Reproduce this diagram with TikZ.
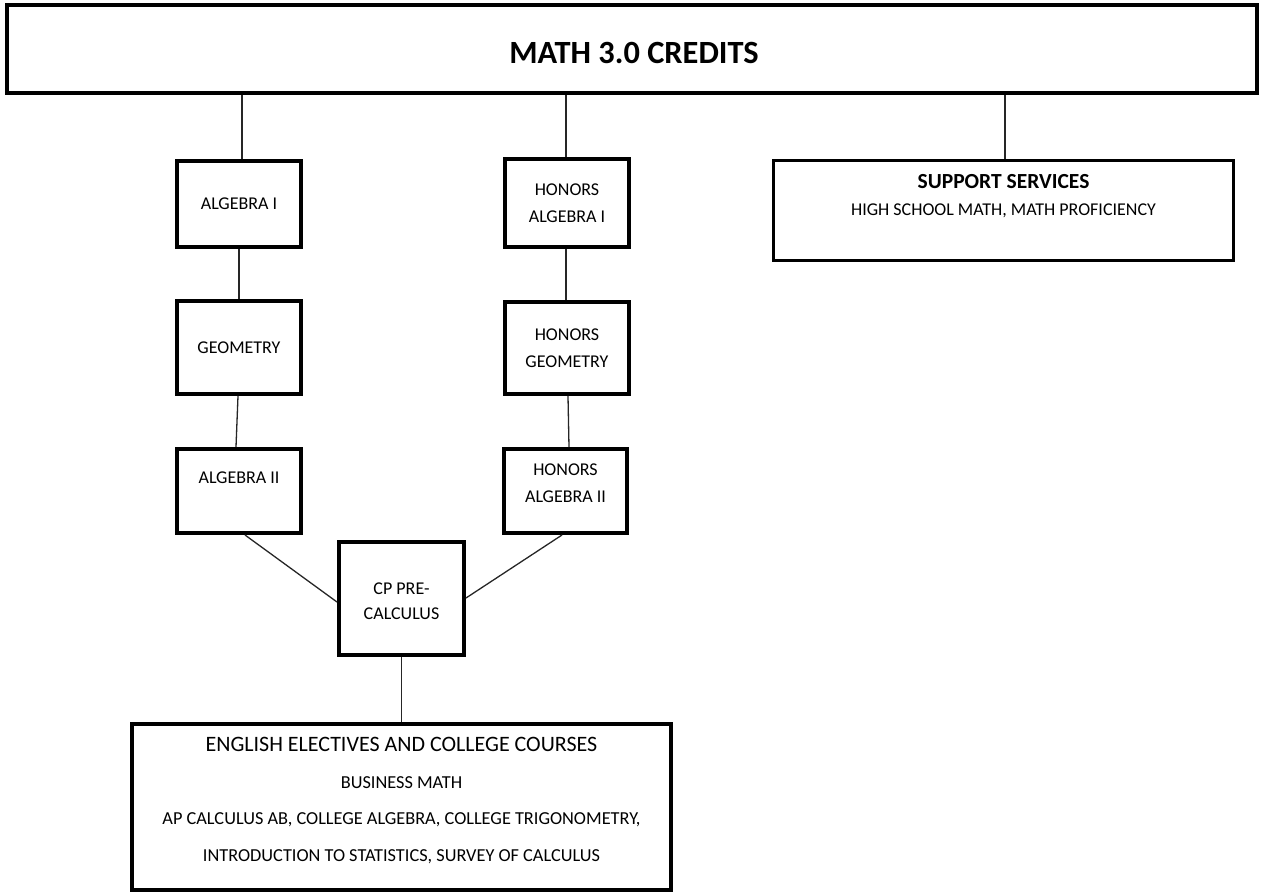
\documentclass[tikz,border=0pt]{standalone}
\usepackage{fontspec}
\setmainfont{Carlito}
\begin{document}
\begin{tikzpicture}[x=1pt,y=-1pt,
  box/.style={draw=black,line width=4pt,fill=white,rectangle,inner sep=0pt,align=center},
  thinbox/.style={box,line width=3pt},
  lbl/.style={inner sep=0pt,align=center,font=\fontsize{18}{27}\selectfont},
  conn/.style={draw=black!85,line width=1.3pt}]
\useasboundingbox (0,0) rectangle (1262,894);
% boxes
\node[box,minimum width=1250pt,minimum height=88pt] (top) at (632,49) {};
\node[inner sep=0pt,font=\fontsize{32.4}{34}\selectfont\bfseries] (toplbl) at (634,53) {MATH 3.0 CREDITS};
\node[box,minimum width=124pt,minimum height=86pt,font=\fontsize{18}{27}\selectfont] (alg1) at (239,204) {ALGEBRA I};
\node[box,minimum width=124pt,minimum height=93pt,font=\fontsize{18}{27}\selectfont] (geo) at (239,347.5) {GEOMETRY};
\node[box,minimum width=124pt,minimum height=84pt] (alg2) at (239,491) {};
\node[lbl] (alg2lbl) at (239,478) {ALGEBRA II};
\node[box,minimum width=124pt,minimum height=88pt,font=\fontsize{18}{27}\selectfont] (halg1) at (567,203) {HONORS\\ALGEBRA I};
\node[box,minimum width=124pt,minimum height=92pt,font=\fontsize{18}{27}\selectfont] (hgeo) at (567,348) {HONORS\\GEOMETRY};
\node[box,minimum width=123pt,minimum height=84pt] (halg2) at (565.5,491) {};
\node[lbl] (halg2lbl) at (565.5,483) {HONORS\\ALGEBRA II};
\node[box,minimum width=125pt,minimum height=113pt] (pre) at (401.5,598.5) {};
\node[lbl,font=\fontsize{18}{25}\selectfont] (prelbl) at (401.5,601) {CP PRE-\\CALCULUS};
\node[thinbox,minimum width=460pt,minimum height=100pt] (sup) at (1003.5,210.5) {};
\node[inner sep=0pt,font=\fontsize{21.5}{23}\selectfont\bfseries] (suplbl) at (1003.5,182) {SUPPORT SERVICES};
\node[lbl] (supsub) at (1003.5,211) {HIGH SCHOOL MATH, MATH PROFICIENCY};
\node[box,minimum width=539pt,minimum height=166pt] (elec) at (401.5,807) {};
\node[inner sep=0pt,font=\fontsize{22}{24}\selectfont] (eleclbl) at (401.5,744) {ENGLISH ELECTIVES AND COLLEGE COURSES};
\node[lbl,font=\fontsize{18.3}{21}\selectfont] (bus) at (401.5,783) {BUSINESS MATH};
\node[lbl,font=\fontsize{18.3}{21}\selectfont] (ap) at (401.5,820) {AP CALCULUS AB, COLLEGE ALGEBRA, COLLEGE TRIGONOMETRY,};
\node[lbl,font=\fontsize{18.3}{21}\selectfont] (intro) at (401.5,857) {INTRODUCTION TO STATISTICS, SURVEY OF CALCULUS};
% connectors
\draw[conn] (top.south -| 242,0) -- (alg1.north -| 242,0);
\draw[conn] (top.south -| 566,0) -- (halg1.north -| 566,0);
\draw[conn] (top.south -| 1005,0) -- (sup.north -| 1005,0);
\draw[conn] (alg1.south -| 239,0) -- (geo.north -| 239,0);
\draw[conn] (geo.south -| 238,0) -- (alg2.north -| 236,0);
\draw[conn] (halg1.south -| 566,0) -- (hgeo.north -| 566,0);
\draw[conn] (hgeo.south -| 568,0) -- (halg2.north -| 569,0);
\draw[conn] (alg2.south -| 245,0) -- (pre.west |- 0,602);
\draw[conn] (halg2.south -| 562,0) -- (pre.east |- 0,598);
\draw[conn] (pre.south) -- (elec.north -| pre.south);
\end{tikzpicture}
\end{document}
